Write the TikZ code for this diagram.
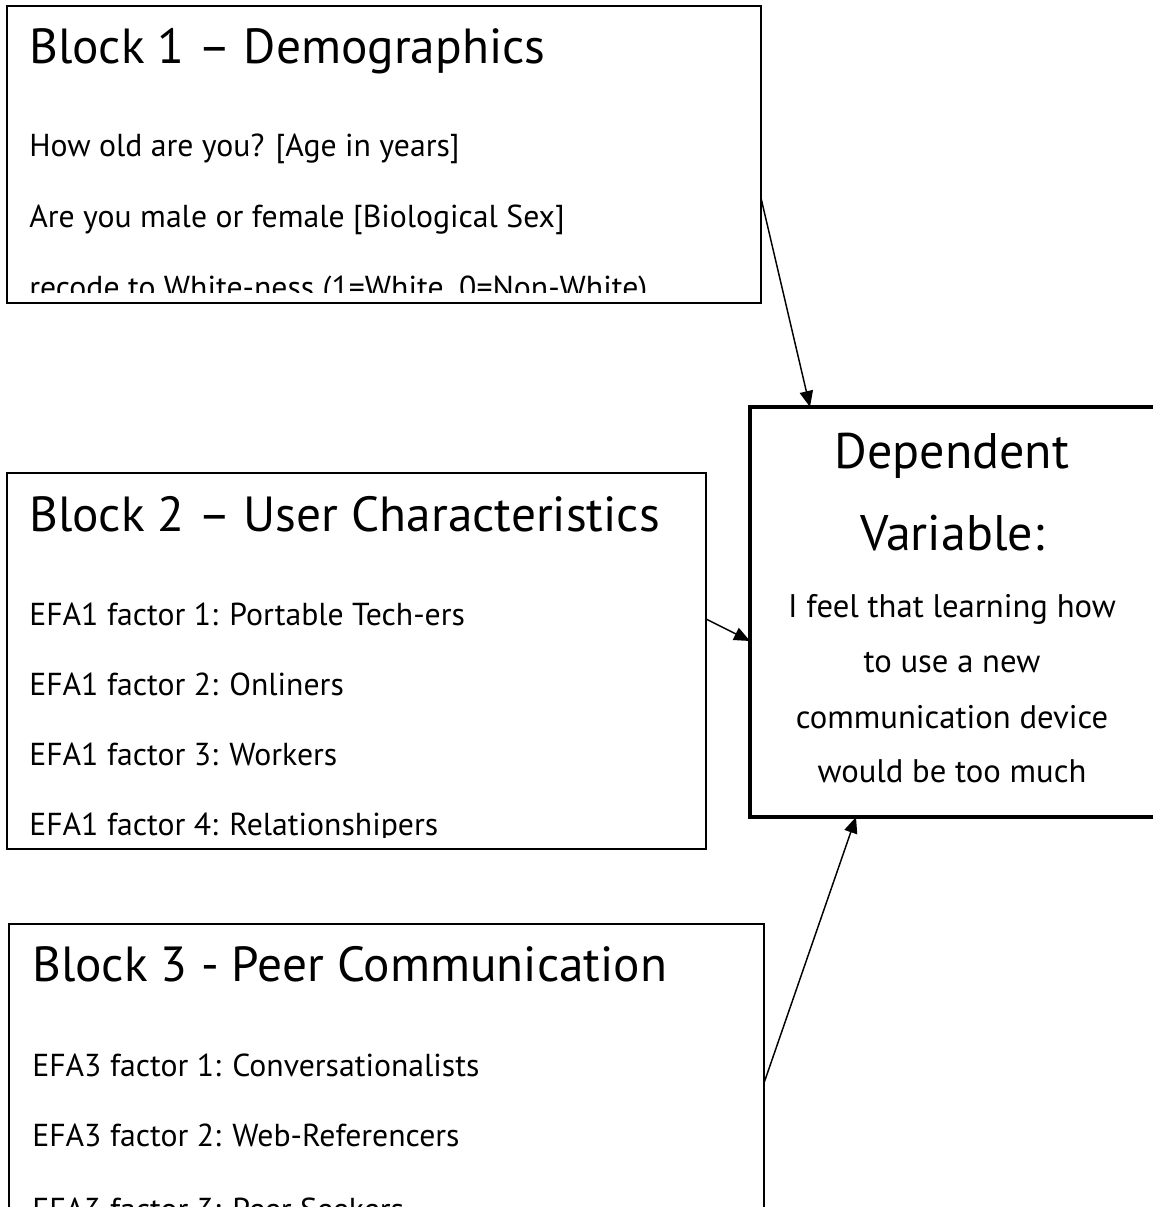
\documentclass[tikz,border=0pt]{standalone}
\usepackage{fontspec}
\setmainfont{PT Sans}
\usetikzlibrary{fit,arrows.meta}
\tikzset{
  box/.style={draw=black, line width=1.5pt, inner sep=0pt, rectangle},
  dvbox/.style={draw=black, line width=2.6pt, inner sep=0pt, rectangle},
  title/.style={anchor=base west, inner sep=0pt, font=\fontsize{37}{42}\selectfont},
  item/.style={anchor=base west, inner sep=0pt, font=\fontsize{23.8}{28}\selectfont},
  dvbig/.style={anchor=base, inner sep=0pt, font=\fontsize{37.5}{42}\selectfont},
  dvsmall/.style={anchor=base, inner sep=0pt, font=\fontsize{24.5}{28}\selectfont},
  link/.style={draw=black, line width=1.1pt, -{Triangle[length=12pt,width=10pt]}}
}
\begin{document}
\begin{tikzpicture}[x=0.75pt,y=-0.75pt]
\useasboundingbox (0,0) rectangle (1153,1207);
% box outlines
\coordinate (b1nw) at (7,6);   \coordinate (b1se) at (761,303);
\coordinate (b2nw) at (7,473); \coordinate (b2se) at (706,849);
\coordinate (b3nw) at (9,924); \coordinate (b3se) at (764,1230);
\coordinate (dvnw) at (750,407); \coordinate (dvse) at (1170,817);
\node[box, fit=(b1nw)(b1se)] (b1) {};
\node[box, fit=(b2nw)(b2se)] (b2) {};
\node[box, fit=(b3nw)(b3se)] (b3) {};
\node[dvbox, fit=(dvnw)(dvse)] (dv) {};
% box 1 texts
\begin{scope}
\clip (8,7) rectangle (760,292);
\node[title] (t1) at (29,63) {Block 1 – Demographics};
\node[item] (t1a) at (29,156) {How old are you? [Age in years]};
\node[item] (t1b) at (29,227) {Are you male or female [Biological Sex]};
\node[item] (t1c) at (29,298) {recode to White-ness (1=White, 0=Non-White)};
\end{scope}
% box 2 texts
\begin{scope}
\clip (8,474) rectangle (705,837);
\node[title] (t2) at (29,531) {Block 2 – User Characteristics};
\node[item] (t2a) at (29,625) {EFA1 factor 1: Portable Tech-ers};
\node[item] (t2b) at (29,695) {EFA1 factor 2: Onliners};
\node[item] (t2c) at (29,765) {EFA1 factor 3: Workers};
\node[item] (t2d) at (29,835) {EFA1 factor 4: Relationshipers};
\end{scope}
% box 3 texts
\begin{scope}
\clip (10,925) rectangle (763,1207);
\node[title] (t3) at (32,981) {Block 3 - Peer Communication};
\node[item] (t3a) at (32,1076) {EFA3 factor 1: Conversationalists};
\node[item] (t3b) at (32,1146) {EFA3 factor 2: Web-Referencers};
\node[item] (t3c) at (32,1220) {EFA3 factor 3: Peer Seekers};
\end{scope}
% dependent variable texts
\node[dvbig] (d1) at (952,468) {Dependent};
\node[dvbig] (d2) at (952,550) {Variable:};
\node[dvsmall] (d3) at (952,617) {I feel that learning how};
\node[dvsmall] (d4) at (952,672) {to use a new};
\node[dvsmall] (d5) at (952,728) {communication device};
\node[dvsmall] (d6) at (952,782) {would be too much};
% connectors
\coordinate (a1s) at (761,198);
\coordinate (a1e) at (810,407);
\coordinate (a2s) at (706,619);
\coordinate (a2e) at (750,641);
\coordinate (a3s) at (764,1083);
\coordinate (a3e) at (856,817);
\draw[link] (a1s) -- (a1e);
\draw[link] (a2s) -- (a2e);
\draw[link] (a3s) -- (a3e);
\end{tikzpicture}
\end{document}
